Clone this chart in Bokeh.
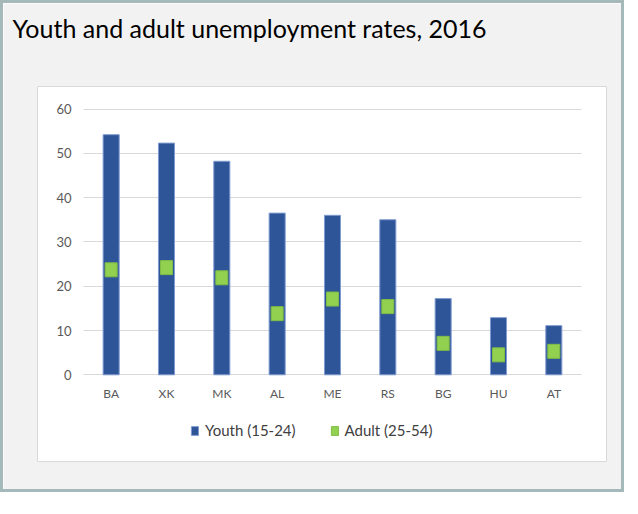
from bokeh.plotting import figure
from bokeh.models import (Range1d, Legend, LegendItem, ColumnDataSource, FixedTicker)
from bokeh.embed import file_html
from bokeh.resources import INLINE

# ---- data ----
countries = ["BA", "XK", "MK", "AL", "ME", "RS", "BG", "HU", "AT"]
youth = [54.2, 52.3, 48.2, 36.5, 36.0, 35.0, 17.2, 12.9, 11.1]
adult = [23.7, 24.2, 21.9, 13.8, 17.1, 15.4, 7.1, 4.5, 5.3]
y_ticks = [0, 10, 20, 30, 40, 50, 60]
title_text = "Youth and adult unemployment rates, 2016"
youth_label = "Youth (15-24)"
adult_label = "Adult (25-54)"

FONT = "Lato"
BLUE = "#2e5597"
GREEN = "#92d050"

pos = list(range(len(countries)))
src = ColumnDataSource(dict(pos=pos, c=countries, youth=youth, adult=adult))

W, H = 624, 492
n = len(countries)
p = figure(width=W, height=H, output_backend="svg", toolbar_location=None,
           x_range=Range1d(-0.5 - 0.831, n - 0.5 + 0.452),
           y_range=Range1d(-19.57, 65.08),
           min_border_left=34, min_border_right=21,
           min_border_top=83, min_border_bottom=34)

p.styles = {"border": "3px solid #a5b8ba"}
p.border_fill_color = "#f2f2f2"
p.background_fill_color = "white"
p.outline_line_color = "#d9d9d9"
p.outline_line_width = 1

bars = p.vbar(x="pos", top="youth", width=0.29, source=src,
              fill_color=BLUE, line_color="#7f9bd0", line_width=1)
pts = p.rect(x="pos", y="adult", width=12, height=14,
             width_units="screen", height_units="screen", source=src,
             fill_color=GREEN, line_color="#80bd45", line_width=1)

# axes
p.yaxis.ticker = FixedTicker(ticks=y_ticks)
p.xaxis.ticker = FixedTicker(ticks=pos)
p.xaxis.major_label_overrides = {i: c for i, c in zip(pos, countries)}
p.yaxis.fixed_location = -0.5
p.xaxis.fixed_location = 0
p.ygrid.ticker = FixedTicker(ticks=y_ticks)
p.ygrid.cross_bounds = (-0.5, n - 0.5)
p.ygrid.grid_line_color = "#d9d9d9"
p.ygrid.grid_line_width = 1
p.xgrid.grid_line_color = None
for ax in (p.xaxis, p.yaxis):
    ax.axis_line_color = None
    ax.major_tick_line_color = None
    ax.minor_tick_line_color = None
    ax.major_tick_out = 0
    ax.major_tick_in = 0
    ax.minor_tick_out = 0
    ax.major_label_text_color = "#595959"
    ax.major_label_text_font = FONT
p.yaxis.major_label_text_font_size = "13px"
p.xaxis.major_label_text_font_size = "12px"
p.yaxis.major_label_standoff = 12
p.xaxis.major_label_standoff = 11

# title
p.title.text = title_text
p.title.text_font = FONT
p.title.text_font_size = "25px"
p.title.text_font_style = "normal"
p.title.text_color = "#000000"
p.title.align = "left"
p.title.vertical_align = "top"
p.title.offset = -25
p.title.standoff = 0
p.title.padding = (0, 0, 0, 42)  # left, right, top, bottom

legend = Legend(items=[LegendItem(label=youth_label, renderers=[bars]),
                       LegendItem(label=adult_label, renderers=[pts])],
                orientation="horizontal", location=(153, 22),
                label_text_font=FONT, label_text_font_size="15px",
                label_text_color="#404040",
                glyph_width=9, glyph_height=11, label_standoff=6,
                spacing=34, padding=0, margin=0,
                background_fill_alpha=0, border_line_color=None)
p.add_layout(legend, "center")

open("out.html", "w").write(file_html(p, INLINE))
